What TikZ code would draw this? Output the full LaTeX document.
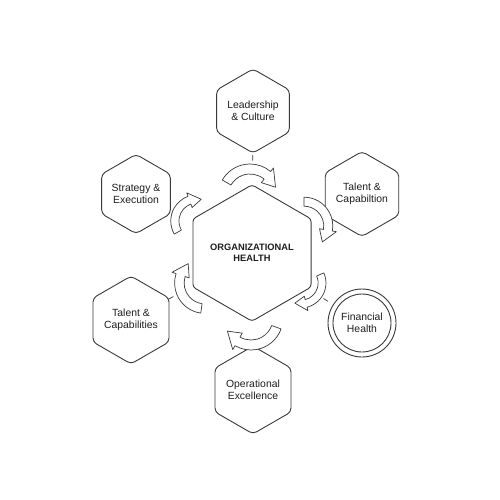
\documentclass[tikz,border=0pt]{standalone}
\usepackage{fontspec}
\setmainfont{Liberation Sans}
\usetikzlibrary{shapes.geometric,calc}
\definecolor{ink}{HTML}{3A3A3A}
\definecolor{txt}{HTML}{1E1E1E}
\newcommand\cwarrow[4]{%
  \begin{scope}[shift={(#1,#2)},rotate=-#3,scale=#4]
    \draw[arr] (150:32pt) arc[start angle=150,end angle=50,radius=32pt]
      -- (50:36.5pt) -- (19:27pt) -- (50:17.5pt) -- (50:22pt)
      arc[start angle=50,end angle=150,radius=22pt] -- cycle;
  \end{scope}}
\begin{document}
\begin{tikzpicture}[x=1pt,y=-1pt,
  hexa/.style={draw=ink,line width=0.9pt,regular polygon,regular polygon sides=6,
    shape border rotate=30,minimum size=74pt,inner sep=0pt,rounded corners=4pt,
    align=center,text=txt,font=\fontsize{10.4}{11.5}\selectfont},
  hub/.style={hexa,minimum size=128pt,rounded corners=3pt,
    font=\fontsize{9.3}{11}\selectfont\bfseries},
  ring/.style={draw=ink,line width=0.9pt,circle,minimum size=58pt,inner sep=0pt,
    align=center,text=txt,font=\fontsize{10.4}{11.5}\selectfont},
  arr/.style={draw=ink,fill=white,line width=0.7pt,line join=round},
  tick/.style={draw=ink,line width=0.7pt}]
\fill[white] (0,0) rectangle (500,500);
\useasboundingbox (0,0) rectangle (500,500);

\node[hub] (hub) at (252,253) {ORGANIZATIONAL\\HEALTH};
\node[hexa] (lead) at (253,111) {Leadership\\\& Culture};
\node[hexa] (strat) at (136,194) {Strategy \&\\Execution};
\node[hexa] (talr) at (362,194) {Talent \&\\Capabiltion};
\node[hexa] (tall) at (131,320) {Talent \&\\Capabilities};
\node[ring] (fin) at (362,323) {Financial\\Health};
\draw[ink,line width=0.9pt] (fin.center) circle[radius=34pt];
\node[hexa] (opex) at (253,390) {Operational\\Excellence};

\foreach \s in {lead,strat,tall,fin,opex}
  \draw[tick] ($(\s)!0.31!(hub)$) -- ($(\s)!0.35!(hub)$);

\cwarrow{250}{196}{0}{1}
\cwarrow{304}{226}{60}{0.9}
\cwarrow{301}{283}{126}{0.78}
\cwarrow{251}{318}{170}{1}
\cwarrow{205}{283}{248}{0.95}
\cwarrow{197}{221}{300}{0.82}
\end{tikzpicture}
\end{document}
